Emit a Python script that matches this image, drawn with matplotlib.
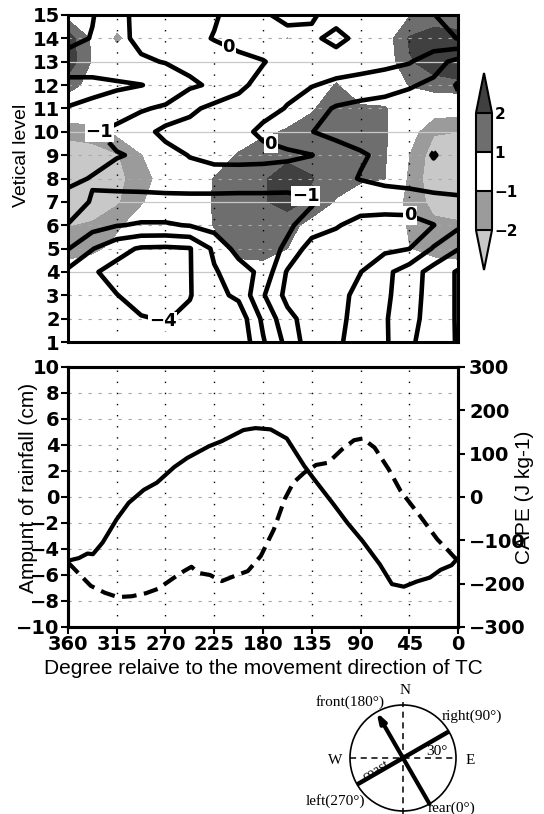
import numpy as np
import matplotlib
matplotlib.use('Agg')
import matplotlib.pyplot as plt
from matplotlib.patches import Circle

# ---- upper panel: values on a degree x level grid
deg_grid = [360, 337.5, 315, 292.5, 270, 247.5, 225, 202.5, 180,
            157.5, 135, 112.5, 90, 67.5, 45, 22.5, 0]
level_grid = [15, 14, 13, 12, 11, 10, 9, 8, 7, 6, 5, 4, 3, 2, 1]

# contoured field (black lines)
contour_vals = [
    [-2.5, -2.05, -1.4, -0.6, -0.5, -0.35, -0.1, 0.4, 0.9, 1.2, 1.12, 0.6, 0.8, 0.7, 0.8, 0.98, 1.3],
    [-2.3, -1.95, -1.35, -0.7, -0.5, -0.3, 0.05, 0.4, 0.6, 0.75, 0.8, 1.3, 0.7, 0.6, 0.65, 0.75, 1.02],
    [-1.6, -1.5, -1.3, -1.15, -0.95, -0.75, -0.55, -0.3, -0.05, 0.4, 0.5, 0.5, 0.45, 0.3, 0.08, -0.6, -1.3],
    [-2.2, -2.25, -2.15, -2.02, -1.75, -1.15, -0.85, -0.2, 0.3, 0.25, 0.05, -0.2, -0.4, -0.6, -0.9, -1.2, -2.1],
    [-1.98, -1.8, -1.5, -1.1, -0.85, -0.2, 0.25, 0.35, 0.3, -0.05, -0.6, -1.1, -1.3, -1.4, -1.5, -1.6, -1.7],
    [-1.5, -1.1, -0.75, -0.4, 0.3, 0.35, 0.35, 0.3, -0.2, -0.6, -0.98, -1.3, -1.4, -1.5, -1.6, -1.7, -1.6],
    [-1.4, -1.3, -1.05, -0.9, -0.4, 0.05, 0.3, 0.35, 0.3, 0.2, 0.02, -0.5, -0.9, -1.2, -1.5, -2.05, -1.6],
    [-1.2, -0.95, -0.7, -0.6, -0.5, -0.45, -0.45, -0.5, -0.5, -0.55, -0.6, -0.7, -1.05, -1.3, -1.45, -1.7, -1.5],
    [-0.7, -1.05, -1.25, -1.3, -1.3, -1.3, -1.3, -1.3, -1.3, -1.3, -1.1, -0.5, -0.3, -0.35, -0.4, -0.55, -0.8],
    [-1.02, -1.6, -1.95, -2.1, -2.1, -1.95, -1.6, -1.4, -1.3, -1.15, -0.6, -0.05, 0.2, 0.3, 0.3, 0.02, -0.8],
    [-1.95, -2.95, -3.7, -4.1, -4.15, -4.05, -2.8, -1.6, -1.4, -0.85, 0.5, 0.3, 0.25, 0.2, 0.02, -1.1, -1.95],
    [-3.2, -3.9, -4.3, -4.4, -4.35, -4.05, -3.1, -2.5, -1.7, 0.1, 0.5, 0.4, 0.02, -0.75, -1.5, -2.4, -3.1],
    [-3.4, -3.7, -3.98, -4.3, -4.3, -4.05, -3.3, -2.8, -1.1, 0.3, 0.5, 0.35, -0.3, -0.8, -1.6, -2.4, -3.1],
    [-3.3, -3.5, -3.7, -3.95, -4.05, -3.8, -3.3, -3.6, -1.8, -0.3, 0.5, 0.3, -0.4, -0.9, -1.7, -2.4, -3.1],
    [-3.2, -3.4, -3.5, -3.65, -3.7, -3.6, -3.4, -3.8, -2.1, -0.7, 0.6, 0.2, -0.5, -0.85, -1.9, -2.3, -3.1],
]

# shaded field
shade_vals = [
    [0.6, 0.3, 0, 0, 0, 0, 0, 0, 0, 0, 0, 0, 0, 0, 0.9, 1.3, 1.2],
    [2.5, 0.8, -1.4, 0, 0, 0, 0, 0, 0, -1.1, 0, 0, 0, 0.4, 2.1, 2.6, 2.5],
    [2.6, 0.9, 0, 0, 0, 0, 0, 0, 0, 0, 0, 0, 0, 0.3, 1.9, 2.5, 2.6],
    [1.5, 0.5, 0, 0, 0, 0, 0, 0, 0, 0, 0, 1.1, 0, 0, 1.05, 1.6, 1.8],
    [0, 0, 0, 0, 0, 0, 0, 0, 0, 0.5, 0.9, 1.5, 1.2, 1.1, 0, -0.4, -0.5],
    [-1.7, -1.5, -0.8, 0, 0, 0, 0, 0.3, 0.8, 1.1, 1.4, 1.6, 1.5, 1.2, -0.5, -1.9, -2.0],
    [-2.6, -2.5, -2.1, -1.1, 0, 0, 0.3, 1.1, 1.6, 1.8, 1.7, 1.6, 1.4, 1.15, -1.05, -2.5, -2.6],
    [-2.7, -2.6, -2.3, -1.5, -0.5, 0.2, 1.05, 1.6, 1.9, 2.4, 2.05, 1.5, 1.2, 1.02, -1.3, -2.6, -2.7],
    [-2.6, -2.5, -2.15, -1.2, 0, 0.3, 1.1, 1.7, 1.9, 2.4, 1.8, 0.9, 0.2, 0, -1.4, -2.3, -2.4],
    [-2.05, -1.9, -1.3, -0.3, 0, 0.2, 1.05, 1.5, 1.6, 1.4, 0.6, 0, 0, 0, -1.2, -1.8, -1.9],
    [-1.6, -1.4, -0.6, 0, 0, 0, 0.6, 1.3, 1.3, 1.0, 0, 0, 0, 0, -1.0, -1.4, -1.5],
    [-0.4, 0, 0, 0, 0, 0, 0, 0.6, 0.7, 0.3, 0, 0, 0, 0, 0, -0.4, -0.5],
    [0] * 17,
    [0] * 17,
    [0] * 17,
]

shade_levels = [-2, -1, 1, 2]
shade_colors = ['#c8c8c8', '#9b9b9b', 'white', '#6e6e6e', '#404040']
contour_levels = [-4, -3, -2, -1, 0, 1]
# where the contour values are written on the lines
label_spots = {0: [(210, 13.8), (173, 9.45), (44, 6.45)],
               -1: [(345, 10.05), (140, 7.4)],
               -4: [(272, 1.95)]}

# ---- lower panel
rain_deg = [360, 350, 342, 337, 328, 315, 304, 290, 278, 262, 250, 230, 218, 198, 187,
            173, 158, 142, 134, 115, 102, 88, 72, 61, 50, 38, 26, 16, 6, 0]
rain_cm = [-4.9, -4.7, -4.35, -4.4, -3.5, -1.7, -0.45, 0.55, 1.1, 2.3, 3.0, 3.9, 4.3, 5.15, 5.3,
           5.2, 4.5, 2.4, 1.5, -0.55, -2.0, -3.4, -5.2, -6.7, -6.9, -6.5, -6.2, -5.6, -5.25, -4.7]

cape_deg = [360, 339, 326, 314, 301, 288, 277, 262, 253, 246, 240, 229, 218, 205, 194, 182,
            170, 160, 152, 142, 131, 120, 107, 96, 88, 77, 64, 53, 35, 19, 10, 0]
cape_jkg = [-151, -205, -221, -231, -229, -222, -212, -186, -171, -161, -175, -180, -194, -181, -171, -136,
            -75, -5, 33, 56, 74, 79, 110, 131, 135, 114, 64, 14, -44, -98, -121, -148]

deg_ticks = [360, 315, 270, 225, 180, 135, 90, 45, 0]
rain_ticks = list(range(-10, 11, 2))
cape_ticks = list(range(-300, 301, 100))

W, H = 544, 814


def px_box(x0, y0, x1, y1):
    return [x0 / W, 1 - y1 / H, (x1 - x0) / W, (y1 - y0) / H]


fig = plt.figure(figsize=(W / 100, H / 100), dpi=100)
ax1 = fig.add_axes(px_box(68, 15, 458, 342))
ax2 = fig.add_axes(px_box(68, 367, 458, 627))
cax = fig.add_axes(px_box(476, 73, 492, 270))
axc = fig.add_axes(px_box(300, 676, 544, 814))

label_font = dict(family='Liberation Sans', size=15)
tick_font = 14

# ---------------- upper panel
X, Y = np.meshgrid(deg_grid, level_grid)
S = np.array(shade_vals, dtype=float)
C = np.array(contour_vals, dtype=float)

cf = ax1.contourf(X, Y, S, levels=shade_levels, colors=shade_colors, extend='both', zorder=1)

for lv in range(2, 15):
    if lv % 3 == 1:
        ax1.axhline(lv, color='#c8c8c8', lw=0.9, zorder=2)
    else:
        ax1.axhline(lv, color='#a8a8a8', lw=0.8, ls=(0, (3, 6)), zorder=2)
for d in deg_ticks[1:-1]:
    ax1.axvline(d, color='black', lw=1.0, ls=(0, (1, 7)), zorder=2)


def fmt(v):
    return f'{v:.0f}'.replace('-', '\u2212')


for lv in contour_levels:
    cs = ax1.contour(X, Y, C, levels=[lv], colors='black', linewidths=3.3,
                     negative_linestyles='solid', zorder=3)
    if lv in label_spots:
        texts = ax1.clabel(cs, manual=label_spots[lv], fmt=fmt, fontsize=13,
                           inline=True, inline_spacing=1)
        for t in texts:
            t.set_fontweight('bold')
            t.set_rotation(0)
            t.set_bbox(dict(facecolor='white', edgecolor='none', pad=0.5))
            t.set_zorder(4)

ax1.set_xlim(360, 0)
ax1.set_ylim(1, 15)
ax1.set_yticks(range(1, 16))
ax1.tick_params(axis='x', length=0, labelbottom=False)
ax1.tick_params(axis='y', direction='out', length=5, width=1.5, pad=1, labelsize=tick_font)
for lbl in ax1.get_yticklabels():
    lbl.set_fontweight('bold')
for sp in ax1.spines.values():
    sp.set_linewidth(2.2)
    sp.set_zorder(5)
ax1.set_ylabel('Vetical level', fontdict=dict(family='Liberation Sans', size=14))
ax1.yaxis.set_label_coords(-0.097, 0.572)

# colour bar
cb = fig.colorbar(cf, cax=cax, extendfrac=0.34, drawedges=True)
cb.set_ticks(shade_levels)
cb.ax.tick_params(length=0, pad=2, labelsize=11)
for lbl in cb.ax.get_yticklabels():
    lbl.set_fontweight('bold')
cb.outline.set_linewidth(1.5)
cb.dividers.set_linewidth(1.5)
cb.dividers.set_color('black')

# ---------------- lower panel
for v in rain_ticks[1:-1]:
    ax2.axhline(v, color='#a8a8a8', lw=0.8, ls=(0, (3, 6)), zorder=1)
for d in deg_ticks[1:-1]:
    ax2.axvline(d, color='black', lw=1.0, ls=(0, (1, 7)), zorder=1)

ax2.plot(rain_deg, rain_cm, color='black', lw=3.0, zorder=3)
ax2.set_xlim(360, 0)
ax2.set_ylim(-10, 10)
ax2.set_xticks(deg_ticks)
ax2.set_yticks(rain_ticks)
ax2.tick_params(direction='out', length=5, width=1.5, labelsize=tick_font)
ax2.tick_params(axis='y', pad=1)
ax2.tick_params(axis='x', pad=1)
for lbl in ax2.get_xticklabels() + ax2.get_yticklabels():
    lbl.set_fontweight('bold')
for sp in ax2.spines.values():
    sp.set_linewidth(2.2)

ax2r = ax2.twinx()
ax2r.plot(cape_deg, cape_jkg, color='black', lw=3.0, dashes=(3.5, 1.8), zorder=3)
ax2r.set_ylim(-300, 300)
ax2r.set_yticks(cape_ticks)
ax2r.tick_params(direction='out', length=5, width=1.5, labelsize=tick_font, pad=3)
for lbl in ax2r.get_yticklabels():
    lbl.set_fontweight('bold')
for sp in ax2r.spines.values():
    sp.set_linewidth(2.2)

ax2.set_xlabel('Degree relaive to the movement direction of TC', fontdict=label_font)
ax2.xaxis.set_label_coords(0.5, -0.123)
ax2.set_ylabel('Ampunt of rainfall (cm)', fontdict=label_font)
ax2.yaxis.set_label_coords(-0.077, 0.535)
ax2r.set_ylabel('CAPE (J kg-1)', fontdict=label_font)
ax2r.yaxis.set_label_coords(1.146, 0.5)

# ---------------- direction sketch
axc.set_xlim(-1.943, 2.660)
axc.set_ylim(-1.057, 1.547)
axc.axis('off')
axc.add_patch(Circle((0, 0), 1.0, fill=False, lw=1.2, color='black'))
axc.plot([0, 0], [-1.05, 1.05], color='black', lw=1.1, dashes=(4, 3))
axc.plot([-1.0, 1.0], [0, 0], color='black', lw=1.1, dashes=(4, 3))
coast = np.deg2rad(30)
axc.plot([-np.cos(coast), np.cos(coast)], [-np.sin(coast), np.sin(coast)],
         color='black', lw=3.2, solid_capstyle='butt')
heading = coast + np.pi / 2
axc.annotate('', xy=(np.cos(heading), np.sin(heading)),
             xytext=(-np.cos(heading), -np.sin(heading)),
             arrowprops=dict(arrowstyle='-|>,head_length=0.55,head_width=0.18', lw=3,
                             color='black', shrinkA=0, shrinkB=0, mutation_scale=10))
serif = dict(family='Liberation Serif', size=11)
axc.text(0.04, 1.28, 'N', ha='center', va='center', fontdict=serif)
axc.text(-1.28, -0.04, 'W', ha='center', va='center', fontdict=serif)
axc.text(1.26, -0.04, 'E', ha='center', va='center', fontdict=serif)
axc.text(-1.0, 1.06, 'front(180°)', ha='center', va='center', fontdict=serif)
axc.text(1.30, 0.78, 'right(90°)', ha='center', va='center', fontdict=serif)
axc.text(0.64, 0.12, '30°', ha='center', va='center', fontdict=serif)
axc.text(-0.50, -0.24, 'coast', ha='center', va='center', rotation=30,
         fontdict=dict(family='Liberation Serif', size=10))
axc.text(-1.28, -0.82, 'left(270°)', ha='center', va='center', fontdict=serif)
axc.text(0.92, -0.95, 'rear(0°)', ha='center', va='center', fontdict=serif)

fig.savefig('out.png', dpi=100)
